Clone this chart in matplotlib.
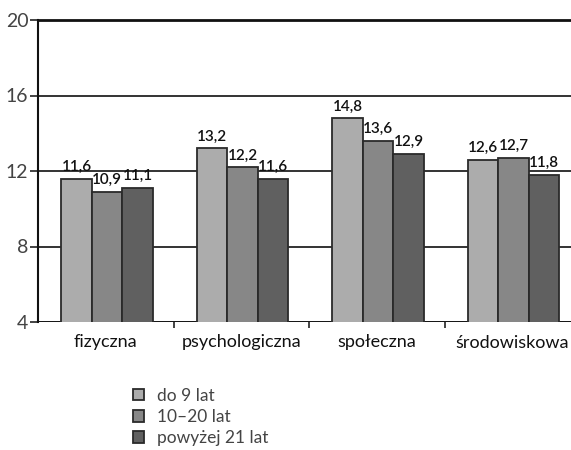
import matplotlib
matplotlib.use("Agg")
import matplotlib.pyplot as plt
import numpy as np

categories = ["fizyczna", "psychologiczna", "społeczna", "środowiskowa"]
series_names = ["do 9 lat", "10–20 lat", "powyżej 21 lat"]
do_9 = [11.6, 13.2, 14.8, 12.6]
lat_10_20 = [10.9, 12.2, 13.6, 12.7]
powyzej_21 = [11.1, 11.6, 12.9, 11.8]
y_ticks = [4, 8, 12, 16, 20]

series = [do_9, lat_10_20, powyzej_21]
colors = ["#acacac", "#878787", "#606060"]
edge = "#2a2a2a"

plt.rcParams["font.family"] = ["Lato", "DejaVu Sans"]

fig = plt.figure(figsize=(5.71, 4.5), dpi=100)
W, H = 571, 450
ax = fig.add_axes([38 / W, 1 - 322 / H, 542 / W, (322 - 20) / H])

x = np.arange(len(categories))
bw = 0.225
handles = []
for i, (vals, col, name) in enumerate(zip(series, colors, series_names)):
    pos = x + (i - 1) * bw + 0.01
    bars = ax.bar(pos, vals, width=bw, color=col, edgecolor=edge,
                  linewidth=1.3, zorder=3, label=name)
    handles.append(bars)
    for p, v in zip(pos, vals):
        ax.text(p, v + 0.25, f"{v:.1f}".replace(".", ","), ha="center",
                va="bottom", fontsize=11, fontweight="semibold",
                color="#111111", zorder=4)

ax.set_xlim(-0.5, 3.5)
ax.set_ylim(4, 20)
ax.set_yticks(y_ticks)
ax.set_yticklabels([str(t) for t in y_ticks], fontsize=14, color="#444444")
ax.yaxis.grid(True, color="#111111", linewidth=1.2, zorder=1)
ax.set_axisbelow(True)

ax.set_xticks([0.5, 1.5, 2.5], minor=False)
ax.set_xticklabels([])
ax.tick_params(axis="x", length=4, width=1.2, direction="out", color="#222222")
ax.set_xticks(x, minor=True)
ax.set_xticklabels(categories, minor=True, fontsize=13, color="#111111")
ax.tick_params(axis="x", which="minor", length=0, pad=9)
ax.tick_params(axis="y", length=6, width=1.2, color="#222222", pad=1)

for s in ["right", "bottom"]:
    ax.spines[s].set_visible(False)
ax.spines["left"].set_linewidth(1.5)
ax.spines["left"].set_color("#111111")
ax.spines["top"].set_linewidth(2)
ax.spines["top"].set_color("#111111")
ax.axhline(4, color="#111111", linewidth=1.2, zorder=1)

leg = fig.legend(handles=handles, labels=series_names, loc="upper left",
                 bbox_to_anchor=(124 / W, 1 - 379 / H), frameon=False,
                 fontsize=12.5, handlelength=0.65, handleheight=0.65,
                 handletextpad=0.75, labelspacing=0.3, labelcolor="#444444",
                 borderpad=0)

fig.savefig("out.png", dpi=100)
